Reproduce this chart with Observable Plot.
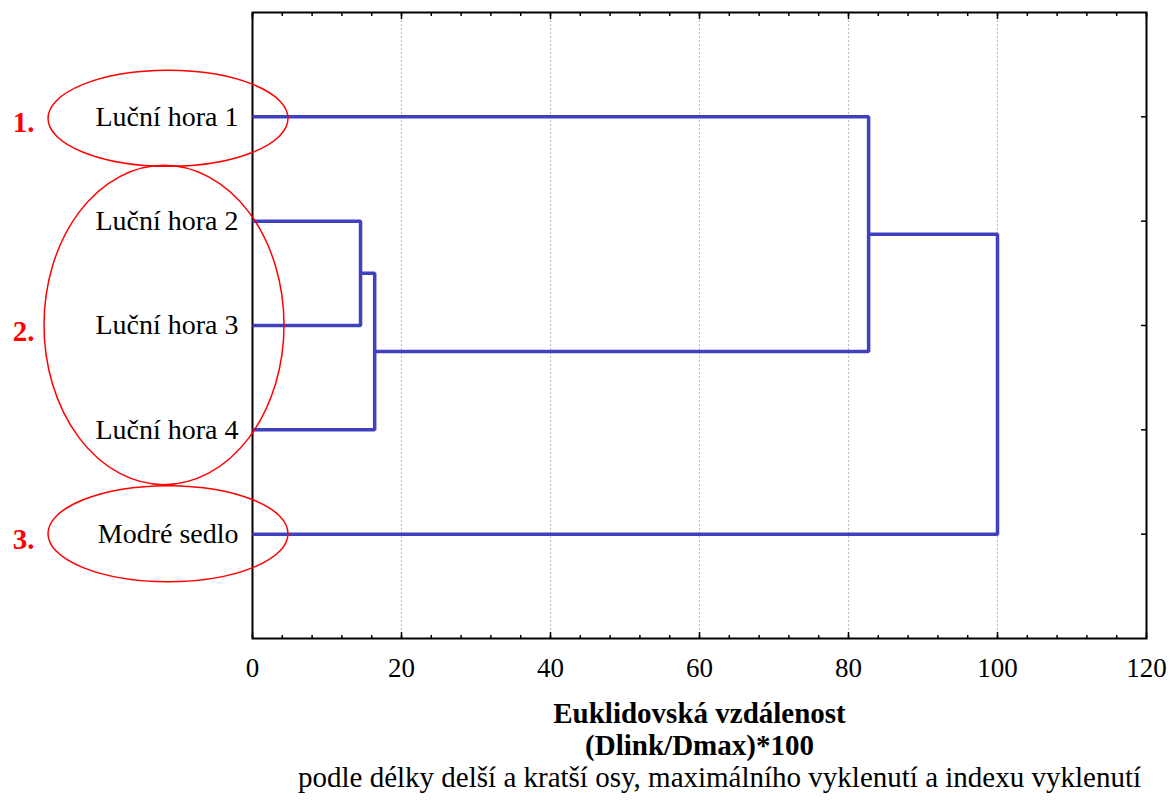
<!DOCTYPE html>
<html>
<head>
<meta charset="utf-8">
<script src="https://cdn.jsdelivr.net/npm/d3@7"></script>
<script src="https://cdn.jsdelivr.net/npm/@observablehq/plot@0.6"></script>
<style>
  html, body { margin: 0; padding: 0; background: white; }
</style>
</head>
<body>
<div id="chart"></div>
<script>
// ---- data ----
const leafLabels = ["Luční hora 1", "Luční hora 2", "Luční hora 3", "Luční hora 4", "Modré sedlo"];
const mergeLeft = ["Luční hora 2", "m1", "Luční hora 1", "m3"];
const mergeRight = ["Luční hora 3", "Luční hora 4", "m2", "Modré sedlo"];
const mergeHeight = [14.5, 16.4, 82.7, 100];
const xMajorTicks = [0, 20, 40, 60, 80, 100, 120];
const xMinorTicks = [0, 4, 8, 12, 16, 20, 24, 28, 32, 36, 40, 44, 48, 52, 56, 60, 64, 68, 72, 76, 80, 84, 88, 92, 96, 100, 104, 108, 112, 116, 120];
const gridTicks = [20, 40, 60, 80, 100];
const groupNames = ["1.", "2.", "3."];
const groupFirst = ["Luční hora 1", "Luční hora 2", "Modré sedlo"];
const groupLast = ["Luční hora 1", "Luční hora 4", "Modré sedlo"];
const titleLines = ["Euklidovská vzdálenost", "(Dlink/Dmax)*100"];
const captionLine = "podle délky delší a kratší osy, maximálního vyklenutí a indexu vyklenutí";

// ---- build dendrogram segments ----
const pos = new Map(leafLabels.map((l, i) => [l, {x: 0, y: i}]));
const segs = [];
mergeHeight.forEach((h, i) => {
  const id = "m" + (i + 1);
  const a = pos.get(mergeLeft[i]), b = pos.get(mergeRight[i]);
  segs.push({id, x: a.x, y: a.y}, {id, x: h, y: a.y}, {id, x: h, y: b.y}, {id, x: b.x, y: b.y});
  pos.set(id, {x: h, y: (a.y + b.y) / 2});
});
const rows = leafLabels.map((_, i) => i);
const groups = groupNames.map((g, i) => ({
  name: g,
  row: (leafLabels.indexOf(groupFirst[i]) + leafLabels.indexOf(groupLast[i])) / 2,
  span: leafLabels.indexOf(groupLast[i]) - leafLabels.indexOf(groupFirst[i])
}));

const FONT = "Liberation Serif, Times New Roman, serif";

const tickOpts = {fill: "none", label: null, strokeWidth: 1.5, stroke: "black"};

const chart = Plot.plot({
  width: 1170,
  height: 801,
  marginLeft: 252,
  marginRight: 24,
  marginTop: 12,
  marginBottom: 163,
  style: {fontFamily: FONT, fontSize: "27px", background: "white", color: "black", overflow: "visible"},
  x: {domain: [0, 120]},
  y: {domain: [-1, 5], reverse: true},
  marks: [
    Plot.gridX(gridTicks, {stroke: "#b8b8b8", strokeOpacity: 1, strokeDasharray: "2,2", strokeWidth: 1}),
    // bottom axis ticks (inward)
    Plot.axisX(xMinorTicks, {anchor: "bottom", tickSize: -3, ...tickOpts}),
    Plot.axisX(xMajorTicks, {anchor: "bottom", tickSize: -6, ...tickOpts}),
    Plot.axisX(xMajorTicks, {anchor: "bottom", tickSize: 0, tickPadding: 19, fontSize: 27, label: null, tickFormat: d => String(d)}),
    // top axis ticks
    Plot.axisX(xMinorTicks, {anchor: "top", tickSize: -3, ...tickOpts}),
    Plot.axisX(xMajorTicks, {anchor: "top", tickSize: -6, ...tickOpts}),
    // y axes
    Plot.axisY(rows, {anchor: "left", tickSize: -6, ...tickOpts}),
    Plot.axisY(rows, {anchor: "left", tickSize: 0, tickPadding: 14, fontSize: 28, label: null, tickFormat: i => leafLabels[i]}),
    Plot.axisY(rows, {anchor: "right", tickSize: -6, ...tickOpts}),
    Plot.frame({stroke: "black", strokeWidth: 2}),
    // dendrogram
    Plot.line(segs, {x: "x", y: "y", z: "id", stroke: "#4040c0", strokeWidth: 3.5, strokeLinejoin: "miter", strokeLinecap: "butt"}),
    // group labels
    Plot.text(groups, {x: () => 0, y: "row", text: "name", dx: -229, dy: 6, fill: "red", fontWeight: "bold", fontSize: 29, textAnchor: "middle"}),
    // bottom titles
    Plot.text([titleLines[0]], {frameAnchor: "bottom", dy: 84, fontWeight: "bold", fontSize: 29, textAnchor: "middle", fill: "black"}),
    Plot.text([titleLines[1]], {frameAnchor: "bottom", dy: 116, fontWeight: "bold", fontSize: 29, textAnchor: "middle", fill: "black"}),
    Plot.text([captionLine], {frameAnchor: "bottom", dy: 148, dx: 20, fontSize: 29, textAnchor: "middle", fill: "black"})
  ]
});

// ---- ellipse annotations around the groups ----
const ys = chart.scale("y"), xs = chart.scale("x");
const x0 = xs.apply(0);
const rowStep = Math.abs(ys.apply(1) - ys.apply(0));
const svg = d3.select(chart);
groups.forEach((g, i) => {
  svg.append("ellipse")
    .attr("cx", x0 - (i === 1 ? 88 : 84))
    .attr("cy", ys.apply(g.row) + (i === 0 ? 2 : 0))
    .attr("rx", 120)
    .attr("ry", g.span === 0 ? rowStep * 0.46 : rowStep * (g.span / 2 + 0.53))
    .attr("fill", "none")
    .attr("stroke", "red")
    .attr("stroke-width", 1.5);
});

document.getElementById("chart").appendChild(chart);
</script>
</body>
</html>
